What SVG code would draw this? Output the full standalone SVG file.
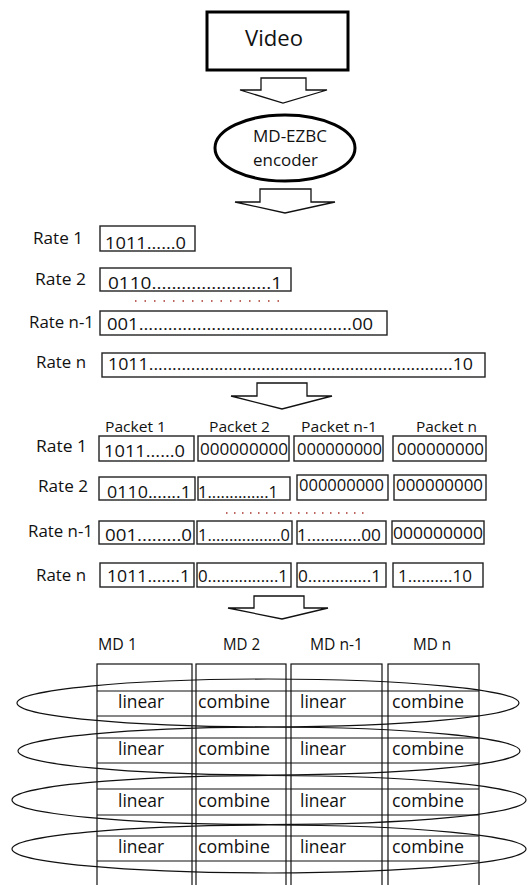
<svg xmlns="http://www.w3.org/2000/svg" width="532" height="885" viewBox="0 0 532 885">
<style>
text{font-family:"Open Sans","Liberation Sans",sans-serif;fill:#111}
.lbl{font-size:16px}
.dig{font-size:17px}
.pdig{font-size:17px}
.hdr{font-size:14px}
.cell{font-size:19px}
.box{fill:#fff;stroke:#222;stroke-width:1.4}
.col{fill:none;stroke:#111;stroke-width:1.2}
.hl{stroke:#111;stroke-width:1.1}
.ring{fill:none;stroke:#111;stroke-width:1.2}
.arrow{fill:#fff;stroke:#111;stroke-width:1.3;stroke-linejoin:miter}
.dots{stroke:#a8342c;stroke-width:1.5;stroke-dasharray:1.5 8}
</style>

<g id="video">
<rect x="207" y="12" width="141" height="58" fill="#fff" stroke="#000" stroke-width="3"/>
<text x="245" y="46" style="font-size:22px" textLength="58" lengthAdjust="spacingAndGlyphs">Video</text>
</g>

<g id="encoder">
<ellipse cx="285" cy="148" rx="70" ry="33" fill="#fff" stroke="#000" stroke-width="3"/>
<text x="253" y="142" style="font-size:16px" textLength="74" lengthAdjust="spacingAndGlyphs">MD-EZBC</text>
<text x="253" y="166" style="font-size:17px" textLength="65" lengthAdjust="spacingAndGlyphs">encoder</text>
</g>

<g id="connectors">
<polygon class="arrow" points="261,78 306,78 306,90 327,90 283,103 240,90 261,90"/>
<polygon class="arrow" points="260,189 311,189 311,202 335,202 285,213 235,202 260,202"/>
<polygon class="arrow" points="257,383 307,383 307,396 332,396 282,409 231,396 257,396"/>
<polygon class="arrow" points="254,596 304,596 304,608 328,608 282,619 228,608 254,608"/>
</g>

<g id="rates">
<text class="lbl" x="33" y="244" textLength="50" lengthAdjust="spacingAndGlyphs">Rate 1</text>
<text class="lbl" x="35" y="285" textLength="51" lengthAdjust="spacingAndGlyphs">Rate 2</text>
<text class="lbl" x="29" y="328" textLength="65" lengthAdjust="spacingAndGlyphs">Rate n-1</text>
<text class="lbl" x="36" y="368" textLength="50" lengthAdjust="spacingAndGlyphs">Rate n</text>
<rect class="box" x="100" y="226" width="95" height="25"/>
<text class="dig" x="105" y="249" textLength="81" lengthAdjust="spacingAndGlyphs">1011......0</text>
<rect class="box" x="100" y="268" width="191" height="23"/>
<text class="dig" x="108" y="289" textLength="174" lengthAdjust="spacingAndGlyphs">0110........................1</text>
<line class="dots" x1="135" y1="301" x2="280" y2="301"/>
<rect class="box" x="100" y="311" width="287" height="24"/>
<text class="dig" x="107" y="330" textLength="266" lengthAdjust="spacingAndGlyphs">001............................................00</text>
<rect class="box" x="102" y="353" width="383" height="24"/>
<text class="dig" x="108" y="370" textLength="365" lengthAdjust="spacingAndGlyphs">1011.................................................................10</text>
</g>

<g id="packets">
<text class="hdr" x="105" y="432" textLength="61" lengthAdjust="spacingAndGlyphs">Packet 1</text>
<text class="hdr" x="209" y="432" textLength="61" lengthAdjust="spacingAndGlyphs">Packet 2</text>
<text class="hdr" x="301" y="432" textLength="76" lengthAdjust="spacingAndGlyphs">Packet n-1</text>
<text class="hdr" x="416" y="432" textLength="61" lengthAdjust="spacingAndGlyphs">Packet n</text>

<text class="lbl" x="36" y="452" textLength="51" lengthAdjust="spacingAndGlyphs">Rate 1</text>
<rect class="box" x="99" y="436" width="95" height="25"/>
<rect class="box" x="198" y="436" width="91" height="25"/>
<rect class="box" x="294" y="436" width="89" height="25"/>
<rect class="box" x="393" y="436" width="93" height="25"/>
<text class="pdig" x="104" y="457" textLength="81" lengthAdjust="spacingAndGlyphs">1011......0</text>
<text class="pdig" x="200" y="455" textLength="88" lengthAdjust="spacingAndGlyphs">000000000</text>
<text class="pdig" x="297" y="455" textLength="85" lengthAdjust="spacingAndGlyphs">000000000</text>
<text class="pdig" x="397" y="455" textLength="87" lengthAdjust="spacingAndGlyphs">000000000</text>

<text class="lbl" x="38" y="492" textLength="50" lengthAdjust="spacingAndGlyphs">Rate 2</text>
<rect class="box" x="99" y="477" width="96" height="23"/>
<rect class="box" x="198" y="477" width="92" height="23"/>
<rect class="box" x="297" y="475" width="91" height="25"/>
<rect class="box" x="394" y="475" width="92" height="25"/>
<text class="pdig" x="107" y="498" textLength="84" lengthAdjust="spacingAndGlyphs">0110.......1</text>
<text class="pdig" x="198" y="498" textLength="80" lengthAdjust="spacingAndGlyphs">1..............1</text>
<text class="pdig" x="299" y="491" textLength="85" lengthAdjust="spacingAndGlyphs">000000000</text>
<text class="pdig" x="396" y="491" textLength="87" lengthAdjust="spacingAndGlyphs">000000000</text>

<line class="dots" x1="226" y1="513" x2="370" y2="513" style="stroke-dasharray:1.5 6.5"/>

<text class="lbl" x="28" y="537" textLength="65" lengthAdjust="spacingAndGlyphs">Rate n-1</text>
<rect class="box" x="99" y="521" width="95" height="23"/>
<rect class="box" x="197" y="521" width="95" height="23"/>
<rect class="box" x="297" y="521" width="89" height="23"/>
<rect class="box" x="392" y="521" width="92" height="23"/>
<text class="pdig" x="105" y="541" textLength="87" lengthAdjust="spacingAndGlyphs">001.........0</text>
<text class="pdig" x="198" y="541" textLength="92" lengthAdjust="spacingAndGlyphs">1.................0</text>
<text class="pdig" x="297" y="541" textLength="84" lengthAdjust="spacingAndGlyphs">1............00</text>
<text class="pdig" x="393" y="539" textLength="90" lengthAdjust="spacingAndGlyphs">000000000</text>

<text class="lbl" x="36" y="581" textLength="50" lengthAdjust="spacingAndGlyphs">Rate n</text>
<rect class="box" x="100" y="563" width="94" height="24"/>
<rect class="box" x="197" y="563" width="94" height="24"/>
<rect class="box" x="297" y="563" width="89" height="24"/>
<rect class="box" x="393" y="563" width="90" height="24"/>
<text class="pdig" x="107" y="582" textLength="83" lengthAdjust="spacingAndGlyphs">1011.......1</text>
<text class="pdig" x="198" y="582" textLength="90" lengthAdjust="spacingAndGlyphs">0................1</text>
<text class="pdig" x="298" y="582" textLength="83" lengthAdjust="spacingAndGlyphs">0..............1</text>
<text class="pdig" x="398" y="582" textLength="74" lengthAdjust="spacingAndGlyphs">1..........10</text>
</g>

<g id="md-columns">
<text class="lbl" x="98" y="650" textLength="39" lengthAdjust="spacingAndGlyphs">MD 1</text>
<text class="lbl" x="223" y="650" textLength="37" lengthAdjust="spacingAndGlyphs">MD 2</text>
<text class="lbl" x="310" y="650" textLength="53" lengthAdjust="spacingAndGlyphs">MD n-1</text>
<text class="lbl" x="413" y="650" textLength="38" lengthAdjust="spacingAndGlyphs">MD n</text>
<rect class="col" x="97" y="664" width="95" height="240"/>
<rect class="col" x="196" y="664" width="90" height="240"/>
<rect class="col" x="291" y="664" width="91" height="240"/>
<rect class="col" x="388" y="664" width="91" height="240"/>
<g class="hl">
<line x1="97" y1="691" x2="479" y2="691"/>
<line x1="97" y1="716" x2="479" y2="716"/>
<line x1="97" y1="738" x2="479" y2="738"/>
<line x1="97" y1="763" x2="479" y2="763"/>
<line x1="97" y1="789" x2="479" y2="789"/>
<line x1="97" y1="815" x2="479" y2="815"/>
<line x1="97" y1="836" x2="479" y2="836"/>
<line x1="97" y1="861" x2="479" y2="861"/>
</g>
<g class="cell-text">
<text class="cell" x="118" y="708" textLength="46" lengthAdjust="spacingAndGlyphs">linear</text>
<text class="cell" x="198" y="708" textLength="72" lengthAdjust="spacingAndGlyphs">combine</text>
<text class="cell" x="300" y="708" textLength="46" lengthAdjust="spacingAndGlyphs">linear</text>
<text class="cell" x="392" y="708" textLength="72" lengthAdjust="spacingAndGlyphs">combine</text>
<text class="cell" x="118" y="755" textLength="46" lengthAdjust="spacingAndGlyphs">linear</text>
<text class="cell" x="198" y="755" textLength="72" lengthAdjust="spacingAndGlyphs">combine</text>
<text class="cell" x="300" y="755" textLength="46" lengthAdjust="spacingAndGlyphs">linear</text>
<text class="cell" x="392" y="755" textLength="72" lengthAdjust="spacingAndGlyphs">combine</text>
<text class="cell" x="118" y="807" textLength="46" lengthAdjust="spacingAndGlyphs">linear</text>
<text class="cell" x="198" y="807" textLength="72" lengthAdjust="spacingAndGlyphs">combine</text>
<text class="cell" x="300" y="807" textLength="46" lengthAdjust="spacingAndGlyphs">linear</text>
<text class="cell" x="392" y="807" textLength="72" lengthAdjust="spacingAndGlyphs">combine</text>
<text class="cell" x="118" y="853" textLength="46" lengthAdjust="spacingAndGlyphs">linear</text>
<text class="cell" x="198" y="853" textLength="72" lengthAdjust="spacingAndGlyphs">combine</text>
<text class="cell" x="300" y="853" textLength="46" lengthAdjust="spacingAndGlyphs">linear</text>
<text class="cell" x="392" y="853" textLength="72" lengthAdjust="spacingAndGlyphs">combine</text>
</g>
</g>

<g id="md-rings">
<ellipse class="ring" cx="268" cy="703" rx="251" ry="24"/>
<ellipse class="ring" cx="269" cy="751" rx="251" ry="24"/>
<ellipse class="ring" cx="269" cy="800" rx="257" ry="24.5"/>
<ellipse class="ring" cx="269" cy="849" rx="257" ry="24"/>
</g>
</svg>
